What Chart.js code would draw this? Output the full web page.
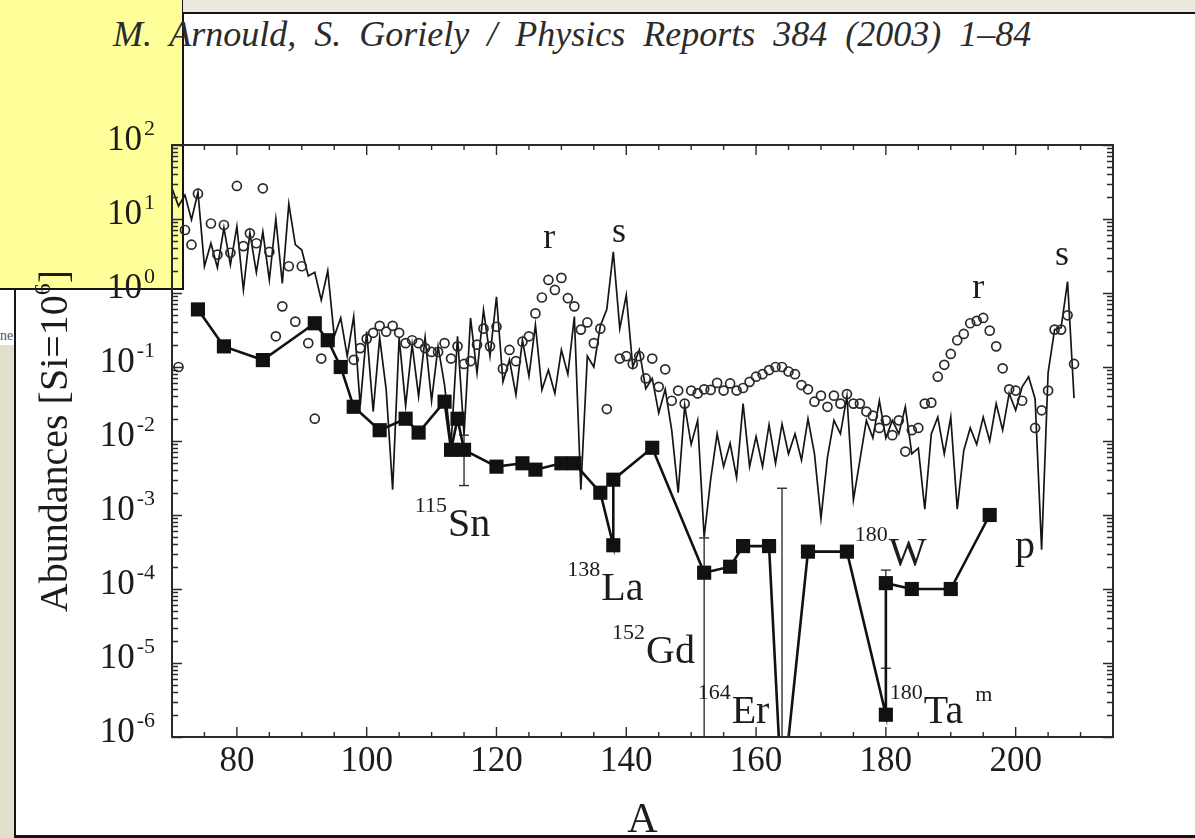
<!DOCTYPE html>
<html lang="en">
<head>
<meta charset="utf-8">
<title>Abundances of the p-nuclides</title>
<script src="https://cdn.jsdelivr.net/npm/chart.js@4.4.1/dist/chart.umd.min.js"></script>
<style>
  html, body { margin: 0; padding: 0; }
  body {
    width: 1195px; height: 838px; position: relative; overflow: hidden;
    background: #fff; font-family: "Liberation Serif", "DejaVu Serif", serif;
  }
  .band-top { position: absolute; left: 183px; top: 0; width: 1012px; height: 12px; background: #ebe8e0; border-bottom: 2px solid #151515; }
  .note { position: absolute; left: 0; top: 0; width: 182px; height: 288px; background: #ffff9a; border-right: 2px solid #151515; border-bottom: 2px solid #151515; }
  .band-left { position: absolute; left: 0; top: 345px; width: 14px; height: 493px; background: #e3dfcf; }
  .page-left { position: absolute; left: 14px; top: 290px; width: 2px; height: 548px; background: #151515; }
  .page-bottom { position: absolute; left: 14px; top: 835px; width: 1181px; height: 3px; background: #151515; }
  .frag { position: absolute; left: 0; top: 328px; font-size: 14px; color: #555; }
  .header {
    position: absolute; left: 113px; top: 13px; white-space: nowrap;
    font: italic 36px "Liberation Serif", serif; color: #2b2b2b; word-spacing: 9px;
  }
  canvas { position: absolute; left: 0; top: 0; }
</style>
</head>
<body>
<div class="note"></div>
<div class="band-top"></div>
<div class="band-left"></div>
<div class="page-left"></div>
<div class="page-bottom"></div>
<div class="frag">ne</div>
<div class="header">M. Arnould, S. Goriely / Physics Reports 384 (2003) 1–84</div>
<canvas id="abundChart" width="1195" height="838"></canvas>

<script>
/* ---------- values ---------- */

// solid zig-zag line (s-process), one value per mass number
const sMass = [
  70, 71, 72, 73, 74, 75, 76, 77, 78, 79, 80, 81, 82, 83, 84, 85, 86, 87, 88, 89,
  90, 91, 92, 93, 94, 95, 96, 97, 98, 99, 100, 101, 102, 103, 104, 105, 106, 107, 108, 109,
  110, 111, 112, 113, 114, 115, 116, 117, 118, 119, 120, 121, 122, 123, 124, 125, 126, 127, 128, 129,
  130, 131, 132, 133, 134, 135, 136, 137, 138, 139, 140, 141, 142, 143, 144, 145, 146, 147, 148, 149,
  150, 151, 152, 153, 154, 155, 156, 157, 158, 159, 160, 161, 162, 163, 164, 165, 166, 167, 168, 169,
  170, 171, 172, 173, 174, 175, 176, 177, 178, 179, 180, 181, 182, 183, 184, 185, 186, 187, 188, 189,
  190, 191, 192, 193, 194, 195, 196, 197, 198, 199, 200, 201, 202, 203, 204, 205, 206, 207, 208, 209
];
const sAbund = [
  26, 15, 21, 9.8, 23, 2.3, 4.7, 2.2, 7.6, 2.4, 7.9, 1.1, 6.5, 1.9, 6.7, 1.5, 10, 1.35, 16, 4.5,
  3.8, 1.7, 1.9, 0.8, 2.0, 0.26, 0.46, 0.14, 0.48, 0.03, 0.3, 0.025, 0.25, 0.05, 0.0022, 0.25, 0.03, 0.2, 0.04, 0.25,
  0.035, 0.19, 0.057, 0.009, 0.26, 0.012, 0.46, 0.083, 0.59, 0.14, 0.89, 0.063, 0.125, 0.042, 0.23, 0.075, 0.37, 0.049, 0.091, 0.044,
  0.17, 0.08, 0.48, 0.0022, 0.14, 0.1, 0.36, 0.6, 3.6, 0.33, 0.94, 0.10, 0.17, 0.051, 0.07, 0.024, 0.05, 0.014, 0.002, 0.03,
  0.009, 0.019, 0.0005, 0.003, 0.0125, 0.0045, 0.0093, 0.0032, 0.032, 0.0045, 0.0115, 0.0045, 0.0166, 0.005, 0.017, 0.0067, 0.0125, 0.0055, 0.02, 0.0067,
  0.0009, 0.006, 0.019, 0.0125, 0.04, 0.0016, 0.0055, 0.019, 0.011, 0.035, 0.011, 0.019, 0.0125, 0.029, 0.0067, 0.008, 0.0012, 0.0125, 0.021, 0.0067,
  0.021, 0.0012, 0.0074, 0.015, 0.009, 0.021, 0.010, 0.032, 0.014, 0.044, 0.026, 0.054, 0.074, 0.037, 0.00034, 0.084, 0.32, 0.34, 1.42, 0.038
];

// open circles (r-process)
const rMass = [
  71, 72, 73, 74, 76, 77, 78, 79, 80, 81, 82, 83, 84, 85, 86, 87, 88, 89, 90, 91, 92, 93,
  98, 99, 100, 101, 102, 103, 104, 105, 106, 107, 108, 109, 110, 111, 112, 113, 114, 115, 116, 117, 118, 119,
  120, 121, 122, 123, 124, 125, 126, 127, 128, 129, 130, 131, 132, 133, 134, 135, 136, 137, 139, 140, 141, 142, 143, 144,
  145, 146, 147, 148, 149, 150, 151, 152, 153, 154, 155, 156, 157, 158, 159, 160, 161, 162, 163, 164, 165, 166, 167, 168, 169,
  170, 171, 172, 173, 174, 175, 176, 177, 178, 179, 180, 181, 182, 183, 184, 185, 186, 187, 188, 189,
  190, 191, 192, 193, 194, 195, 196, 197, 198, 199, 200, 201, 203, 204, 205, 206, 207, 208, 209
];
const rAbund = [
  0.10, 7.1, 4.5, 22, 8.7, 3.3, 8.3, 3.5, 28, 4.3, 6.4, 4.7, 26, 3.6, 0.26, 0.66, 2.3, 0.41, 2.3, 0.21, 0.02, 0.13,
  0.125, 0.18, 0.24, 0.29, 0.36, 0.30, 0.36, 0.29, 0.21, 0.23, 0.21, 0.18, 0.16, 0.16, 0.21, 0.13, 0.19, 0.11, 0.12, 0.20, 0.33, 0.19,
  0.35, 0.095, 0.17, 0.12, 0.22, 0.26, 0.53, 0.87, 1.5, 1.1, 1.6, 0.85, 0.66, 0.32, 0.40, 0.21, 0.33, 0.027, 0.13, 0.14, 0.11, 0.14, 0.07, 0.13,
  0.054, 0.093, 0.035, 0.048, 0.032, 0.048, 0.044, 0.05, 0.049, 0.061, 0.048, 0.06, 0.048, 0.052, 0.063, 0.074, 0.08, 0.091, 0.10, 0.10, 0.087, 0.08, 0.057, 0.05, 0.034,
  0.041, 0.029, 0.041, 0.032, 0.043, 0.032, 0.032, 0.025, 0.022, 0.015, 0.019, 0.012, 0.019, 0.0072, 0.014, 0.015, 0.032, 0.033, 0.074, 0.107,
  0.15, 0.23, 0.28, 0.39, 0.42, 0.46, 0.31, 0.19, 0.096, 0.05, 0.048, 0.035, 0.015, 0.026, 0.048, 0.32, 0.32, 0.50, 0.11
];

// filled squares (p-nuclides), in the order the line joins them
const pMass = [74, 78, 84, 92, 94, 96, 98, 102, 106, 108, 112, 113, 114, 115, 120, 124, 126, 130, 132, 136,
  138, 138, 144, 152, 156, 158, 162, 164, 168, 174, 180, 180, 184, 190, 196];
const pAbund = [0.6, 0.19, 0.124, 0.39, 0.23, 0.10, 0.029, 0.014, 0.020, 0.013, 0.034, 0.0076, 0.020, 0.0076, 0.0045, 0.0050, 0.0041, 0.0050, 0.0050, 0.0020,
  0.00039, 0.0030, 0.0081, 0.000166, 0.0002, 0.00038, 0.00038, 1.4e-7, 0.00032, 0.00032, 2.0e-6, 0.00012, 0.0001, 0.0001, 0.001];

// error bars on some p-nuclides
const errMass = [115, 152, 164, 180];
const errLow = [0.0025, 1e-8, 1e-8, 8.5e-6];
const errHigh = [0.012, 0.00049, 0.0023, 0.00018];

// axes
const xTickLabels = [80, 100, 120, 140, 160, 180, 200];
const yTickExponents = [2, 1, 0, -1, -2, -3, -4, -5, -6];

/* ---------- annotations, anchored in data coordinates ---------- */
const notes = [
  { sup: "115", main: "Sn", a: 107.4, v: 5.2e-4 },
  { sup: "138", main: "La", a: 130.9, v: 7.1e-5 },
  { sup: "152", main: "Gd", a: 137.8, v: 1.0e-5 },
  { sup: "164", main: "Er", a: 151.0, v: 1.55e-6 },
  { sup: "180", main: "W",  a: 175.2, v: 2.1e-4 },
  { sup: "180", main: "Ta", a: 180.6, v: 1.55e-6, post: "m" },
  { sup: "",    main: "p",  a: 199.9, v: 2.6e-4 },
  { sup: "",    main: "r",  a: 127.2, v: 4.06, small: true },
  { sup: "",    main: "s",  a: 137.8, v: 4.9, small: true },
  { sup: "",    main: "r",  a: 193.3, v: 0.855, small: true },
  { sup: "",    main: "s",  a: 206.05, v: 2.39, small: true }
];

const SERIF = '"Liberation Serif", "DejaVu Serif", serif';
const INK = "#1c1c1c";

const toPoints = (xs, ys) => xs.map((a, i) => ({ x: a, y: ys[i] }));

/* ---------- frame, ticks, tick labels, titles, annotations ---------- */
const paperAxes = {
  id: "paperAxes",
  afterDatasetsDraw(chart) {
    const { ctx, chartArea: area } = chart;
    const x = chart.scales.x;
    const y = chart.scales.y;
    ctx.save();

    // frame
    ctx.strokeStyle = "#2a2a2a";
    ctx.lineWidth = 2;
    ctx.strokeRect(area.left, area.top, area.right - area.left, area.bottom - area.top);

    // inward ticks, mirrored on all four sides
    ctx.lineWidth = 1.4;
    ctx.beginPath();
    for (let a = x.min + 5; a < x.max; a += 5) {
      const px = x.getPixelForValue(a);
      const len = xTickLabels.includes(a) ? 10 : 5;
      ctx.moveTo(px, area.bottom); ctx.lineTo(px, area.bottom - len);
      ctx.moveTo(px, area.top); ctx.lineTo(px, area.top + len);
    }
    yTickExponents.forEach(e => {
      for (let k = 1; k <= 9; k++) {
        const v = k * Math.pow(10, e);
        if (v > y.max * 1.0001 || v < y.min * 0.9999) continue;
        const py = Math.round(y.getPixelForValue(v)) + 0.5;
        const len = k === 1 ? 10 : 6;
        ctx.moveTo(area.left, py); ctx.lineTo(area.left + len, py);
        ctx.moveTo(area.right, py); ctx.lineTo(area.right - len, py);
      }
    });
    ctx.stroke();

    ctx.fillStyle = INK;

    // x tick labels
    ctx.font = "35px " + SERIF;
    ctx.textAlign = "center";
    ctx.textBaseline = "middle";
    xTickLabels.forEach(a => ctx.fillText(String(a), x.getPixelForValue(a), area.bottom + 25));

    // y tick labels: 10 with a raised exponent
    const labelRight = area.left - 17;
    yTickExponents.forEach(e => {
      const py = y.getPixelForValue(Math.pow(10, e));
      const exp = e < 0 ? "-" + Math.abs(e) : String(e);
      ctx.textAlign = "right";
      ctx.font = "22px " + SERIF;
      const expW = ctx.measureText(exp).width;
      ctx.fillText(exp, labelRight, py - 16);
      ctx.font = "35px " + SERIF;
      ctx.fillText("10", labelRight - expW - 2, py - 4);
    });

    // x title
    ctx.textAlign = "center";
    ctx.textBaseline = "alphabetic";
    ctx.font = "42px " + SERIF;
    ctx.fillText("A", (area.left + area.right) / 2, 832);

    // y title, rotated
    ctx.save();
    ctx.translate(54, (area.top + area.bottom) / 2);
    ctx.rotate(-Math.PI / 2);
    ctx.textAlign = "left";
    ctx.textBaseline = "middle";
    const parts = [["Abundances [Si=10", 40, 0], ["6", 24, -12], ["]", 40, 0]];
    let total = 0;
    parts.forEach(p => { ctx.font = p[1] + "px " + SERIF; total += ctx.measureText(p[0]).width; });
    let cx = -total / 2;
    parts.forEach(p => {
      ctx.font = p[1] + "px " + SERIF;
      ctx.fillText(p[0], cx, p[2] + 2);
      cx += ctx.measureText(p[0]).width;
    });
    ctx.restore();

    // nuclide and process annotations
    ctx.textAlign = "left";
    ctx.textBaseline = "alphabetic";
    notes.forEach(n => {
      let px = x.getPixelForValue(n.a);
      const py = y.getPixelForValue(n.v);
      if (n.sup) {
        ctx.font = "22px " + SERIF;
        ctx.fillText(n.sup, px, py - 24);
        px += ctx.measureText(n.sup).width + 1;
      }
      ctx.font = (n.small ? 36 : 40) + "px " + SERIF;
      ctx.fillText(n.main, px, py);
      px += ctx.measureText(n.main).width;
      if (n.post) {
        ctx.font = "22px " + SERIF;
        ctx.fillText(n.post, px + 12, py - 22);
      }
    });

    ctx.restore();
  }
};

/* ---------- chart ---------- */
const errorSets = errMass.map((a, i) => ({
  label: "error " + a,
  data: [{ x: a, y: errLow[i] }, { x: a, y: errHigh[i] }],
  borderColor: "#222",
  borderWidth: 1.3,
  pointStyle: "line",
  pointRadius: 5,
  pointBorderWidth: 1.3,
  pointBorderColor: "#222",
  order: 1
}));

new Chart(document.getElementById("abundChart"), {
  type: "line",
  data: {
    datasets: [
      {
        label: "p-process",
        data: toPoints(pMass, pAbund),
        borderColor: "#111",
        borderWidth: 2.6,
        pointStyle: "rect",
        pointRadius: 10,
        pointBackgroundColor: "#111",
        pointBorderColor: "#111",
        pointBorderWidth: 0,
        order: 0
      },
      {
        label: "r-process",
        data: toPoints(rMass, rAbund),
        showLine: false,
        pointStyle: "circle",
        pointRadius: 4.5,
        pointBorderWidth: 1.7,
        pointBorderColor: "#2a2a2a",
        pointBackgroundColor: "rgba(0,0,0,0)",
        order: 2
      },
      {
        label: "s-process",
        data: toPoints(sMass, sAbund),
        borderColor: "#151515",
        borderWidth: 1.7,
        pointRadius: 0,
        order: 3
      },
      ...errorSets
    ]
  },
  options: {
    responsive: false,
    animation: false,
    devicePixelRatio: 1,
    events: [],
    layout: { padding: { left: 172, top: 145, right: 82, bottom: 101 } },
    scales: {
      x: { type: "linear", min: 70, max: 215, display: false },
      y: { type: "logarithmic", min: 1e-6, max: 100, display: false }
    },
    plugins: {
      legend: { display: false },
      tooltip: { enabled: false }
    }
  },
  plugins: [paperAxes]
});
</script>
</body>
</html>
